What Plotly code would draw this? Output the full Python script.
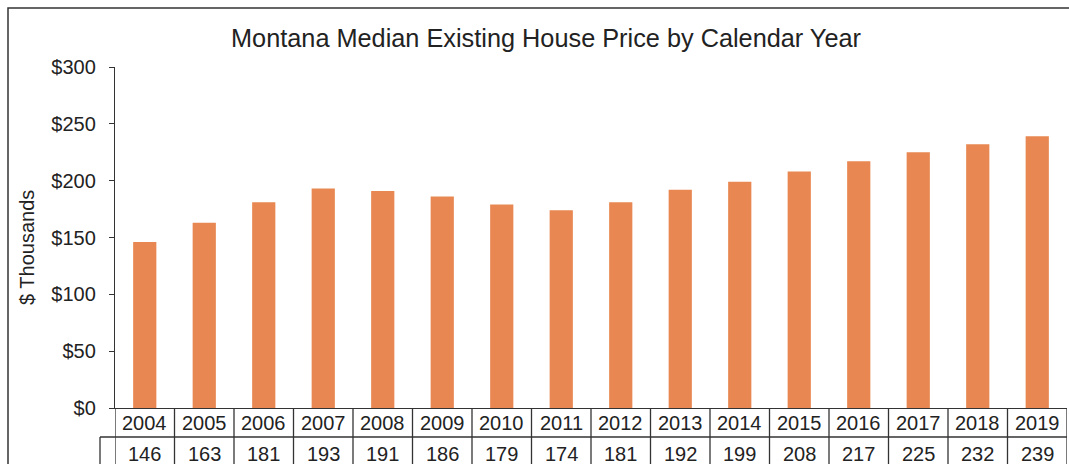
import plotly.graph_objects as go

years = ["2004", "2005", "2006", "2007", "2008", "2009", "2010", "2011",
         "2012", "2013", "2014", "2015", "2016", "2017", "2018", "2019"]
prices = [146, 163, 181, 193, 191, 186, 179, 174, 181, 192, 199, 208, 217, 225, 232, 239]
title_text = "Montana Median Existing House Price by Calendar Year"
y_title = "$ Thousands"

W, H = 1069, 464
FONT = "Liberation Sans, Arial, sans-serif"
TXT = "#222222"
LINE = "#333333"
BAR = "#E88751"

def px(x):
    return x / W

def py(y):
    return 1 - y / H

fig = go.Figure()
fig.add_trace(go.Bar(x=years, y=prices, marker=dict(color=BAR, line=dict(width=0)),
                     hoverinfo="x+y"))

shapes = []
# outer frame
shapes.append(dict(type="rect", xref="paper", yref="paper", x0=px(8), x1=1.2,
                   y0=-0.2, y1=py(8), line=dict(color=LINE, width=1.5)))
# data table lines
shapes.append(dict(type="line", xref="paper", yref="paper", x0=px(100), x1=px(1067),
                   y0=py(437), y1=py(437), line=dict(color=LINE, width=1.3)))
shapes.append(dict(type="line", xref="paper", yref="paper", x0=px(100), x1=px(100),
                   y0=py(437), y1=-0.2, line=dict(color=LINE, width=1.3)))
for i in range(len(years) + 1):
    shapes.append(dict(type="line", xref="x", yref="paper", x0=i - 0.5, x1=i - 0.5,
                       y0=py(408), y1=-0.2, line=dict(color=LINE, width=1.3)))

annotations = []
annotations.append(dict(text=title_text, xref="paper", yref="paper", x=px(546), y=py(38),
                        xanchor="center", yanchor="middle", showarrow=False,
                        font=dict(family=FONT, size=25.3, color=TXT)))
annotations.append(dict(text=y_title, xref="paper", yref="paper", x=px(27), y=py(248),
                        xanchor="center", yanchor="middle", textangle=-90, showarrow=False,
                        font=dict(family=FONT, size=20, color=TXT)))
for i, (yr, v) in enumerate(zip(years, prices)):
    annotations.append(dict(text=yr, xref="x", yref="paper", x=i, y=py(422.5),
                            xanchor="center", yanchor="middle", showarrow=False,
                            font=dict(family=FONT, size=20, color=TXT)))
    annotations.append(dict(text=str(v), xref="x", yref="paper", x=i, y=py(453.5),
                            xanchor="center", yanchor="middle", showarrow=False,
                            font=dict(family=FONT, size=20, color=TXT)))

fig.update_layout(
    width=W, height=H, autosize=False,
    margin=dict(l=0, r=0, t=0, b=0, pad=0, autoexpand=False),
    paper_bgcolor="white", plot_bgcolor="white",
    showlegend=False, bargap=0.61,
    font=dict(family=FONT, size=20, color=TXT),
    xaxis=dict(domain=[px(115), px(1067)], type="category", range=[-0.5, 15.5],
               showticklabels=False, ticks="", showgrid=False, zeroline=False,
               showline=True, linecolor=LINE, linewidth=1.3, automargin=False),
    yaxis=dict(domain=[py(408), py(67)], range=[0, 300], dtick=50, tickprefix="$",
               ticks="outside", ticklen=5, tickcolor=LINE, tickwidth=1.3,
               showline=True, linecolor=LINE, linewidth=1.3, automargin=False,
               showgrid=False, zeroline=False, ticklabelstandoff=9,
               tickfont=dict(family=FONT, size=20, color=TXT)),
    shapes=shapes, annotations=annotations,
)

post = (
    "document.documentElement.style.overflow='hidden';"
    "document.body.style.margin='0';document.body.style.overflow='hidden';"
    "var d=document.getElementById('{plot_id}');"
    "d.style.position='fixed';d.style.top='0px';d.style.left='0px';"
)

fig.write_html("out.html", config={"displayModeBar": False}, post_script=post)
